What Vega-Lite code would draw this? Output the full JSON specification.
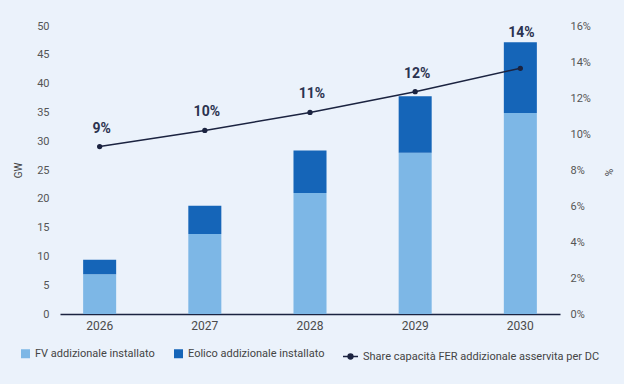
{
  "$schema": "https://vega.github.io/schema/vega-lite/v6.json",
  "autosize": {"type": "none"},
  "width": 500,
  "height": 288,
  "padding": {"left": 60, "top": 26, "right": 64, "bottom": 70},
  "background": "#EBF2FB",
  "config": {
    "font": "Roboto",
    "view": {"stroke": null},
    "axis": {"grid": false, "ticks": false, "labelFont": "Roboto", "titleFont": "Roboto", "labelOverlap": false},
    "legend": {"labelFont": "Roboto", "labelFontSize": 11, "labelColor": "#444444", "labelOffset": 4, "labelLimit": 0}
  },
  "datasets": {
    "bars": [
      {"year": "2026", "type": "FV addizionale installato", "gw": 6.9},
      {"year": "2026", "type": "Eolico addizionale installato", "gw": 2.5},
      {"year": "2027", "type": "FV addizionale installato", "gw": 13.9},
      {"year": "2027", "type": "Eolico addizionale installato", "gw": 4.9},
      {"year": "2028", "type": "FV addizionale installato", "gw": 21.0},
      {"year": "2028", "type": "Eolico addizionale installato", "gw": 7.4},
      {"year": "2029", "type": "FV addizionale installato", "gw": 28.0},
      {"year": "2029", "type": "Eolico addizionale installato", "gw": 9.8},
      {"year": "2030", "type": "FV addizionale installato", "gw": 34.9},
      {"year": "2030", "type": "Eolico addizionale installato", "gw": 12.3}
    ],
    "share": [
      {"year": "2026", "share": 9.3, "label": "9%", "series": "Share capacità FER addizionale asservita per DC"},
      {"year": "2027", "share": 10.2, "label": "10%", "series": "Share capacità FER addizionale asservita per DC"},
      {"year": "2028", "share": 11.2, "label": "11%", "series": "Share capacità FER addizionale asservita per DC"},
      {"year": "2029", "share": 12.35, "label": "12%", "series": "Share capacità FER addizionale asservita per DC"},
      {"year": "2030", "share": 13.65, "label": "14%", "series": "Share capacità FER addizionale asservita per DC"}
    ]
  },
  "layer": [
    {
      "data": {"name": "bars"},
      "mark": {"type": "bar"},
      "encoding": {
        "x": {
          "field": "year", "type": "ordinal",
          "scale": {"paddingInner": 0.686, "paddingOuter": 0.22},
          "axis": {"title": null, "labelAngle": 0, "labelFontSize": 12, "labelColor": "#4A4A4A", "labelPadding": 6, "domain": true, "domainColor": "#1B2340", "domainWidth": 1.5}
        },
        "y": {
          "field": "gw", "type": "quantitative", "aggregate": "sum",
          "scale": {"domain": [0, 50]},
          "axis": {"title": "GW", "values": [0, 5, 10, 15, 20, 25, 30, 35, 40, 45, 50], "labelOverlap": false, "domain": false, "labelFontSize": 11, "labelColor": "#555555", "labelPadding": 11, "titleFontSize": 10, "titleFontWeight": "normal", "titleColor": "#444444", "titleX": -42, "titleY": 144, "titleAngle": -90, "titleBaseline": "middle", "titleAlign": "center"}
        },
        "color": {
          "field": "type", "type": "nominal",
          "sort": ["FV addizionale installato", "Eolico addizionale installato"],
          "scale": {"domain": ["FV addizionale installato", "Eolico addizionale installato"], "range": ["#7DB7E6", "#1565B8"]},
          "legend": {"title": null, "orient": "none", "direction": "horizontal", "legendX": -40, "legendY": 322, "symbolType": "square", "symbolSize": 81, "symbolStrokeWidth": 0, "columnPadding": 18}
        }
      }
    },
    {
      "data": {"name": "share"},
      "encoding": {
        "x": {"field": "year", "type": "ordinal", "scale": {"paddingInner": 0.686, "paddingOuter": 0.22}},
        "y": {
          "field": "share", "type": "quantitative",
          "scale": {"domain": [0, 16]},
          "axis": {"title": "%", "orient": "right", "values": [0, 2, 4, 6, 8, 10, 12, 14, 16], "tickCount": 9, "labelOverlap": false, "labelExpr": "datum.value + '%'", "domain": false, "labelFontSize": 11, "labelColor": "#555555", "labelPadding": 10, "titleFontSize": 10, "titleFontWeight": "normal", "titleColor": "#444444", "titleX": 47, "titleY": 146, "titleAngle": 90, "titleBaseline": "middle", "titleAlign": "center"}
        }
      },
      "layer": [
        {
          "mark": {"type": "line", "strokeWidth": 1.5},
          "encoding": {
            "stroke": {
              "field": "series", "type": "nominal",
              "scale": {"range": ["#1B2340"]},
              "legend": {"title": null, "orient": "none", "legendX": 282, "legendY": 322, "symbolType": "M-1,0L1,0M-0.32,0A0.32,0.32,0,1,1,0.32,0A0.32,0.32,0,1,1,-0.32,0", "symbolSize": 225, "symbolStrokeWidth": 1.5, "symbolFillColor": "#1B2340", "symbolStrokeColor": "#1B2340"}
            }
          }
        },
        {
          "mark": {"type": "point", "filled": true, "size": 28, "color": "#1B2340", "opacity": 1}
        },
        {
          "transform": [{"filter": "datum.year != '2030'"}],
          "mark": {"type": "text", "fontSize": 14, "fontWeight": "bold", "color": "#2B3350", "dy": -14, "dx": 2, "baseline": "alphabetic"},
          "encoding": {"text": {"field": "label"}}
        },
        {
          "transform": [{"filter": "datum.year == '2030'"}],
          "mark": {"type": "text", "fontSize": 14, "fontWeight": "bold", "color": "#2B3350", "dy": -31, "dx": 1, "baseline": "alphabetic"},
          "encoding": {"text": {"field": "label"}}
        }
      ]
    }
  ],
  "resolve": {"scale": {"y": "independent"}}
}
